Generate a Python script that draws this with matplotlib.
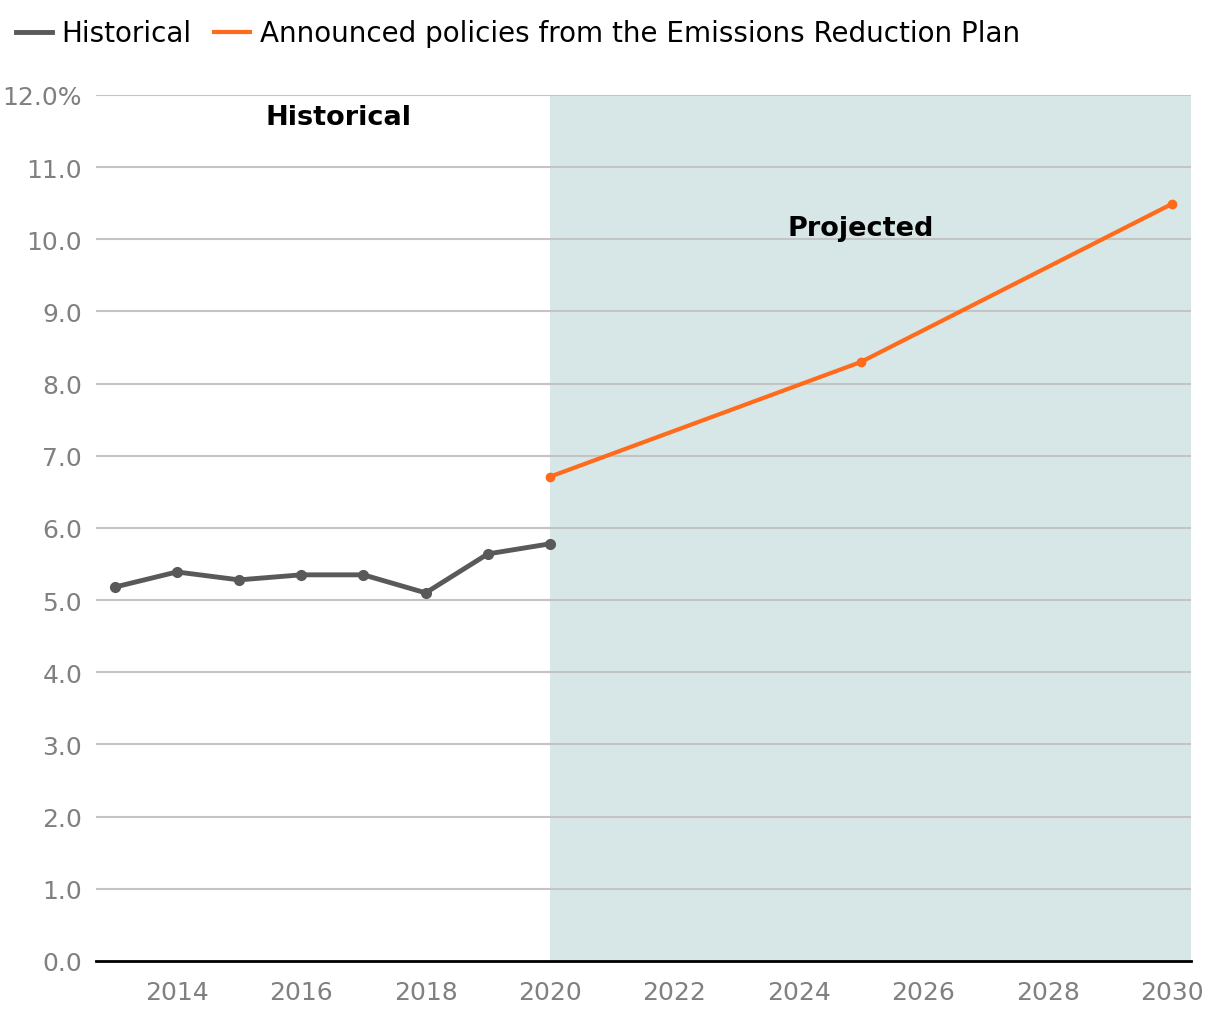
import matplotlib.pyplot as plt
import numpy as np

plt.rcParams['font.family'] = ['DejaVu Sans']

hist_years = [2013, 2014, 2015, 2016, 2017, 2018, 2019, 2020]
hist_values = [5.18, 5.39, 5.28, 5.35, 5.35, 5.10, 5.64, 5.78]

proj_years = [2020, 2025, 2030]
proj_values = [6.71, 8.30, 10.49]

yticks = np.arange(0, 13, 1)
xticks = np.arange(2014, 2031, 2)

grey = '#595959'
orange = '#ff6b1a'

fig = plt.figure(figsize=(12.2, 10.2), dpi=100)
ax = fig.add_axes([0.0787, 0.0569, 0.8973, 0.8491])

ax.axvspan(2020, 2030.3, color='#d7e6e6', zorder=0, lw=0)
for t in yticks[1:]:
    ax.axhline(t, color='#c4c4c4', lw=1.5, zorder=1)

ax.plot(hist_years, hist_values, color=grey, lw=3.5, marker='o', ms=7, label='Historical', zorder=3)
ax.plot(proj_years, proj_values, color=orange, lw=3, marker='o', ms=6,
        label='Announced policies from the Emissions Reduction Plan', zorder=3)

ax.text(2016.6, 11.7, 'Historical', ha='center', va='center', fontsize=19.5, fontweight='bold')
ax.text(2025.0, 10.16, 'Projected', ha='center', va='center', fontsize=19.5, fontweight='bold')

ax.set_xlim(2012.7, 2030.3)
ax.set_ylim(0, 12)
ax.set_yticks(yticks)
ax.set_yticklabels([f'{t:.1f}%' if t == 12 else f'{t:.1f}' for t in yticks])
ax.set_xticks(xticks)
ax.set_xticklabels([str(x) for x in xticks])
ax.tick_params(length=0, labelsize=18, labelcolor='#808080')
ax.tick_params(axis='x', pad=14)
ax.tick_params(axis='y', pad=10)

for s in ['left', 'right', 'top']:
    ax.spines[s].set_visible(False)
ax.spines['bottom'].set_color('black')
ax.spines['bottom'].set_linewidth(2)
ax.spines['bottom'].set_zorder(4)

handles = [plt.Line2D([], [], color=grey, lw=3.5), plt.Line2D([], [], color=orange, lw=3)]
fig.legend(handles, ['Historical', 'Announced policies from the Emissions Reduction Plan'],
           loc='upper left', bbox_to_anchor=(-0.003, 0.999), ncol=2, frameon=False, fontsize=20,
           handlelength=1.3, handletextpad=0.35, columnspacing=0.8, borderaxespad=0.3)

fig.savefig('out.png', dpi=100)
